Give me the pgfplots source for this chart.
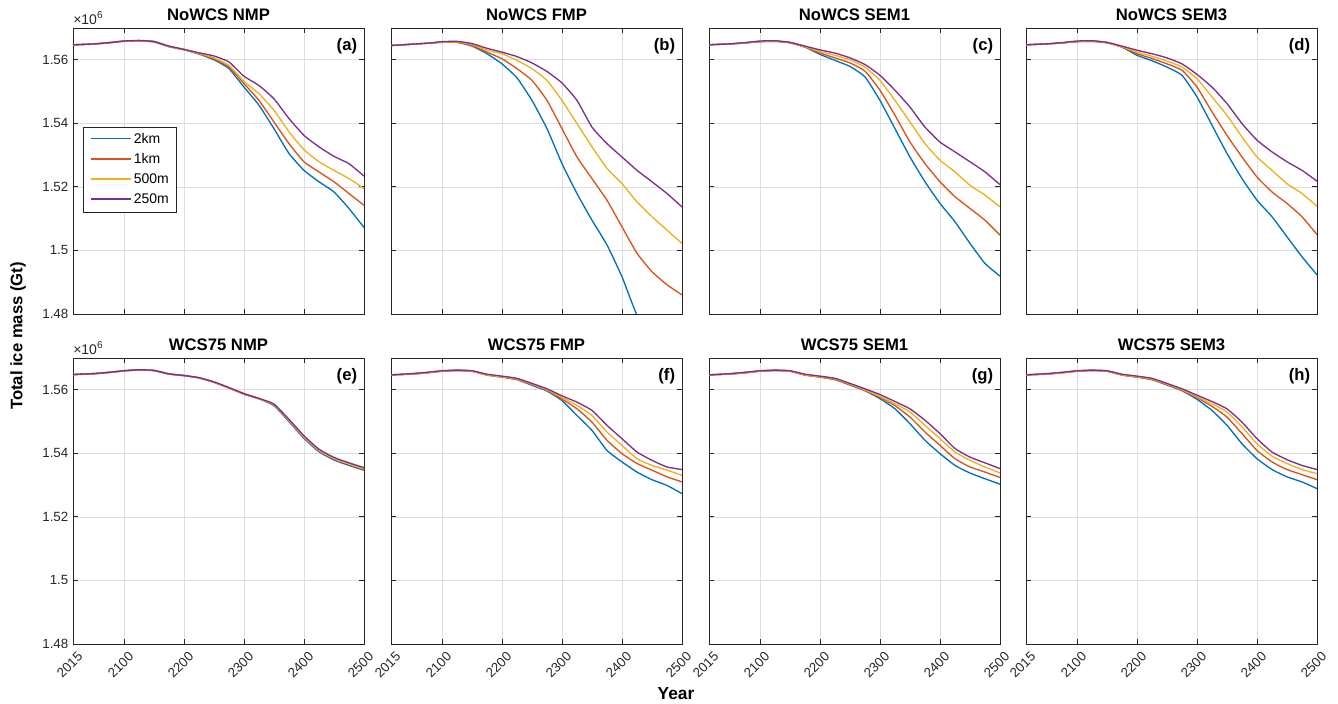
\documentclass[border=0pt]{standalone}
\usepackage{fontspec}
\setmainfont{Liberation Sans}
\usepackage{pgfplots}
\usepackage{pgfplotstable}
\pgfplotsset{compat=1.18}

\definecolor{mblue}{RGB}{0,114,189}
\definecolor{morange}{RGB}{217,83,25}
\definecolor{myellow}{RGB}{237,177,32}
\definecolor{mpurple}{RGB}{126,47,142}
\definecolor{axgray}{RGB}{38,38,38}
\definecolor{gridgray}{RGB}{222,222,222}

% columns: year, 2km, 1km, 500m, 250m  (units 10^6 Gt)
\pgfplotstableread{
yr b o y p
2015 1.5647 1.5646 1.5647 1.5647
2025 1.5648 1.5647 1.5648 1.5648
2050 1.5650 1.5649 1.5650 1.5650
2075 1.5654 1.5653 1.5654 1.5654
2100 1.5659 1.5658 1.5659 1.5659
2125 1.5660 1.5659 1.5660 1.5661
2150 1.5658 1.5656 1.5657 1.5657
2175 1.5642 1.5641 1.5642 1.5643
2200 1.5632 1.5631 1.5632 1.5633
2225 1.5618 1.5619 1.5620 1.5622
2250 1.5600 1.5603 1.5606 1.5612
2275 1.5572 1.5577 1.5582 1.5593
2300 1.5514 1.5525 1.5532 1.5548
2325 1.5457 1.5472 1.5493 1.5519
2350 1.5383 1.5404 1.5441 1.5477
2375 1.5305 1.5336 1.5373 1.5415
2400 1.5252 1.5279 1.5317 1.5362
2425 1.5216 1.5247 1.5279 1.5326
2450 1.5184 1.5216 1.5252 1.5296
2475 1.5132 1.5179 1.5226 1.5273
2500 1.5072 1.5142 1.5195 1.5234
}\tA
\pgfplotstableread{
yr b o y p
2015 1.5645 1.5645 1.5645 1.5645
2025 1.5646 1.5646 1.5646 1.5646
2050 1.5649 1.5649 1.5649 1.5649
2075 1.5652 1.5652 1.5652 1.5652
2100 1.5655 1.5655 1.5656 1.5657
2125 1.5655 1.5655 1.5656 1.5658
2150 1.5643 1.5645 1.5648 1.5651
2175 1.5619 1.5624 1.5630 1.5636
2200 1.5587 1.5603 1.5619 1.5624
2225 1.5543 1.5572 1.5598 1.5610
2250 1.5472 1.5535 1.5572 1.5590
2275 1.5383 1.5472 1.5535 1.5563
2300 1.5273 1.5383 1.5472 1.5527
2325 1.5179 1.5294 1.5399 1.5472
2350 1.5095 1.5226 1.5326 1.5388
2375 1.5017 1.5158 1.5258 1.5336
2400 1.4917 1.5074 1.5210 1.5294
2425 1.4797 1.4991 1.5153 1.5252
2450 1.4755 1.4933 1.5106 1.5216
2475 1.4710 1.4892 1.5064 1.5179
2500 1.4665 1.4860 1.5022 1.5137
}\tB
\pgfplotstableread{
yr b o y p
2015 1.5647 1.5647 1.5647 1.5647
2025 1.5648 1.5648 1.5648 1.5648
2050 1.5650 1.5650 1.5650 1.5650
2075 1.5653 1.5653 1.5653 1.5654
2100 1.5657 1.5657 1.5658 1.5659
2125 1.5658 1.5658 1.5659 1.5660
2150 1.5654 1.5653 1.5654 1.5655
2175 1.5640 1.5640 1.5641 1.5643
2200 1.5617 1.5621 1.5626 1.5631
2225 1.5598 1.5606 1.5614 1.5621
2250 1.5579 1.5590 1.5600 1.5606
2275 1.5546 1.5564 1.5577 1.5585
2300 1.5472 1.5504 1.5535 1.5551
2325 1.5383 1.5425 1.5472 1.5504
2350 1.5294 1.5341 1.5404 1.5451
2375 1.5216 1.5273 1.5336 1.5388
2400 1.5148 1.5216 1.5284 1.5341
2425 1.5090 1.5169 1.5247 1.5310
2450 1.5022 1.5132 1.5205 1.5279
2475 1.4959 1.5095 1.5174 1.5247
2500 1.4919 1.5048 1.5137 1.5207
}\tC
\pgfplotstableread{
yr b o y p
2015 1.5647 1.5647 1.5647 1.5647
2025 1.5648 1.5648 1.5648 1.5648
2050 1.5650 1.5650 1.5650 1.5650
2075 1.5653 1.5653 1.5653 1.5654
2100 1.5657 1.5657 1.5658 1.5659
2125 1.5658 1.5658 1.5659 1.5660
2150 1.5654 1.5653 1.5654 1.5655
2175 1.5640 1.5640 1.5641 1.5643
2200 1.5614 1.5619 1.5624 1.5630
2225 1.5597 1.5604 1.5611 1.5619
2250 1.5577 1.5587 1.5596 1.5606
2275 1.5551 1.5567 1.5577 1.5587
2300 1.5483 1.5514 1.5540 1.5554
2325 1.5394 1.5436 1.5483 1.5514
2350 1.5305 1.5362 1.5425 1.5462
2375 1.5226 1.5294 1.5357 1.5399
2400 1.5158 1.5231 1.5294 1.5347
2425 1.5106 1.5184 1.5252 1.5310
2450 1.5043 1.5148 1.5210 1.5279
2475 1.4980 1.5106 1.5179 1.5252
2500 1.4923 1.5050 1.5139 1.5218
}\tD
\pgfplotstableread{
yr b o y p
2015 1.5648 1.5647 1.5648 1.5648
2025 1.5649 1.5648 1.5649 1.5649
2050 1.5651 1.5650 1.5651 1.5651
2075 1.5655 1.5654 1.5655 1.5655
2100 1.5660 1.5659 1.5660 1.5660
2125 1.5663 1.5662 1.5663 1.5663
2150 1.5661 1.5660 1.5661 1.5661
2175 1.5650 1.5649 1.5650 1.5650
2200 1.5645 1.5644 1.5645 1.5645
2225 1.5638 1.5637 1.5638 1.5638
2250 1.5624 1.5623 1.5624 1.5625
2275 1.5606 1.5605 1.5606 1.5607
2300 1.5587 1.5586 1.5587 1.5588
2325 1.5572 1.5571 1.5572 1.5573
2350 1.5550 1.5552 1.5553 1.5555
2375 1.5500 1.5503 1.5504 1.5507
2400 1.5447 1.5450 1.5451 1.5455
2425 1.5405 1.5408 1.5409 1.5413
2450 1.5379 1.5382 1.5383 1.5387
2475 1.5362 1.5365 1.5366 1.5370
2500 1.5347 1.5350 1.5351 1.5355
}\tE
\pgfplotstableread{
yr b o y p
2015 1.5647 1.5646 1.5647 1.5647
2025 1.5648 1.5647 1.5648 1.5648
2050 1.5650 1.5649 1.5650 1.5651
2075 1.5654 1.5653 1.5654 1.5655
2100 1.5659 1.5658 1.5659 1.5660
2125 1.5661 1.5660 1.5661 1.5662
2150 1.5659 1.5658 1.5659 1.5660
2175 1.5647 1.5646 1.5647 1.5649
2200 1.5640 1.5640 1.5641 1.5643
2225 1.5632 1.5632 1.5634 1.5636
2250 1.5614 1.5616 1.5618 1.5620
2275 1.5596 1.5598 1.5600 1.5603
2300 1.5566 1.5571 1.5576 1.5581
2325 1.5519 1.5540 1.5551 1.5561
2350 1.5472 1.5498 1.5519 1.5535
2375 1.5409 1.5441 1.5467 1.5488
2400 1.5373 1.5399 1.5425 1.5446
2425 1.5341 1.5368 1.5383 1.5404
2450 1.5317 1.5347 1.5362 1.5378
2475 1.5299 1.5326 1.5347 1.5357
2500 1.5273 1.5310 1.5331 1.5349
}\tF
\pgfplotstableread{
yr b o y p
2015 1.5647 1.5646 1.5647 1.5647
2025 1.5648 1.5647 1.5648 1.5648
2050 1.5650 1.5649 1.5650 1.5651
2075 1.5654 1.5653 1.5654 1.5655
2100 1.5659 1.5658 1.5659 1.5660
2125 1.5661 1.5660 1.5661 1.5662
2150 1.5659 1.5658 1.5659 1.5660
2175 1.5647 1.5646 1.5647 1.5649
2200 1.5640 1.5640 1.5641 1.5643
2225 1.5632 1.5632 1.5634 1.5636
2250 1.5615 1.5616 1.5618 1.5620
2275 1.5597 1.5598 1.5600 1.5603
2300 1.5572 1.5576 1.5579 1.5585
2325 1.5540 1.5550 1.5556 1.5563
2350 1.5493 1.5514 1.5530 1.5540
2375 1.5441 1.5467 1.5488 1.5504
2400 1.5399 1.5425 1.5446 1.5462
2425 1.5362 1.5383 1.5404 1.5415
2450 1.5338 1.5357 1.5378 1.5388
2475 1.5320 1.5341 1.5357 1.5370
2500 1.5303 1.5324 1.5338 1.5352
}\tG
\pgfplotstableread{
yr b o y p
2015 1.5647 1.5646 1.5647 1.5647
2025 1.5648 1.5647 1.5648 1.5648
2050 1.5650 1.5649 1.5650 1.5651
2075 1.5654 1.5653 1.5654 1.5655
2100 1.5659 1.5658 1.5659 1.5660
2125 1.5661 1.5660 1.5661 1.5662
2150 1.5659 1.5658 1.5659 1.5660
2175 1.5647 1.5646 1.5647 1.5649
2200 1.5640 1.5640 1.5641 1.5643
2225 1.5632 1.5632 1.5634 1.5636
2250 1.5615 1.5616 1.5618 1.5620
2275 1.5597 1.5598 1.5600 1.5603
2300 1.5570 1.5575 1.5578 1.5583
2325 1.5535 1.5548 1.5556 1.5563
2350 1.5488 1.5514 1.5530 1.5540
2375 1.5430 1.5462 1.5483 1.5498
2400 1.5383 1.5409 1.5430 1.5446
2425 1.5349 1.5373 1.5391 1.5404
2450 1.5326 1.5349 1.5368 1.5380
2475 1.5310 1.5333 1.5349 1.5362
2500 1.5289 1.5317 1.5336 1.5349
}\tH

\newcommand\fourplots[2][]{%
  \addplot[draw=mblue,#1] table[x=yr,y=b]{#2};
  \addplot[draw=morange,#1] table[x=yr,y=o]{#2};
  \addplot[draw=myellow,#1] table[x=yr,y=y]{#2};
  \addplot[draw=mpurple,#1] table[x=yr,y=p]{#2};}

\pgfplotsset{
  mpanel/.style={
    scale only axis, width=218.25pt, height=214.5pt,
    anchor=south west, clip mode=individual,
    xmin=2015, xmax=2500, ymin=1.48, ymax=1.57,
    xtick={2015,2100,2200,2300,2400,2500},
    ytick={1.48,1.5,1.52,1.54,1.56},
    xticklabels={}, yticklabels={},
    grid=major, major grid style={draw=gridgray, line width=0.5pt},
    axis line style={draw=axgray, line width=0.6pt},
    tick style={draw=axgray, line width=0.6pt},
    tick align=inside, major tick length=3.5pt,
    ticklabel style={font=\fontsize{10}{12}\selectfont, text=axgray},
    title style={font=\bfseries\fontsize{12.5}{14}\selectfont, yshift=-4pt},
    every axis plot/.append style={line width=1pt, no markers, smooth, tension=0.3},
  },
  botrow/.style={xticklabels={2015,2100,2200,2300,2400,2500},
    xticklabel style={rotate=45, anchor=north east, inner sep=1.5pt, yshift=-4pt}},
}

\newcommand\plab[1]{\node[anchor=north east, inner sep=0pt, xshift=-5pt, yshift=-7.5pt,
  font=\bfseries\fontsize{12.5}{14}\selectfont] at (rel axis cs:1,1) {#1};}
\newcommand\expo{\node[anchor=south west, inner sep=0pt, yshift=2pt, text=axgray,
  font=\fontsize{10.5}{12}\selectfont] at (rel axis cs:0,1) {×10\raisebox{4.5pt}{\fontsize{7.5}{8}\selectfont 6}};}
\newcommand\legline[1]{\textcolor{#1}{\rule[3.2pt]{30pt}{1pt}}\hspace{2.5pt}}

\begin{document}
\begin{tikzpicture}
\useasboundingbox (0,0) rectangle (1003.5pt,527.25pt);

% top row
\begin{axis}[mpanel, at={(54.75pt,291.75pt)}, title={NoWCS NMP},
  yticklabels={1.48,1.5,1.52,1.54,1.56},
  legend style={at={(0.034,0.654)}, anchor=north west, draw=axgray, line width=0.5pt,
    font=\fontsize{10.5}{12}\selectfont, row sep=2.2pt, inner xsep=3.5pt, inner ysep=2.5pt,
    cells={anchor=west}, column sep=0pt},
  legend image code/.code={}]
\addlegendimage{empty legend}
\addlegendentry{\legline{mblue}2km}
\addlegendimage{empty legend}
\addlegendentry{\legline{morange}1km}
\addlegendimage{empty legend}
\addlegendentry{\legline{myellow}500m}
\addlegendimage{empty legend}
\addlegendentry{\legline{mpurple}250m}
\fourplots[forget plot]{\tA}
\plab{(a)}\expo
\end{axis}
\begin{axis}[mpanel, at={(293.25pt,291.75pt)}, title={NoWCS FMP}]
\fourplots{\tB}
\plab{(b)}
\end{axis}
\begin{axis}[mpanel, at={(531.75pt,291.75pt)}, title={NoWCS SEM1}]
\fourplots{\tC}
\plab{(c)}
\end{axis}
\begin{axis}[mpanel, at={(769.5pt,291.75pt)}, title={NoWCS SEM3}]
\fourplots{\tD}
\plab{(d)}
\end{axis}

% bottom row
\begin{axis}[mpanel, botrow, at={(54.75pt,44.25pt)}, title={WCS75 NMP},
  yticklabels={1.48,1.5,1.52,1.54,1.56}]
\fourplots{\tE}
\plab{(e)}\expo
\end{axis}
\begin{axis}[mpanel, botrow, at={(293.25pt,44.25pt)}, title={WCS75 FMP}]
\fourplots{\tF}
\plab{(f)}
\end{axis}
\begin{axis}[mpanel, botrow, at={(531.75pt,44.25pt)}, title={WCS75 SEM1}]
\fourplots{\tG}
\plab{(g)}
\end{axis}
\begin{axis}[mpanel, botrow, at={(769.5pt,44.25pt)}, title={WCS75 SEM3}]
\fourplots{\tH}
\plab{(h)}
\end{axis}

\node[rotate=90, font=\bfseries\fontsize{12.5}{14}\selectfont] at (13.5pt,275.25pt) {Total ice mass (Gt)};
\node[anchor=base, font=\bfseries\fontsize{13}{15}\selectfont] at (507pt,2.5pt) {Year};
\end{tikzpicture}
\end{document}
